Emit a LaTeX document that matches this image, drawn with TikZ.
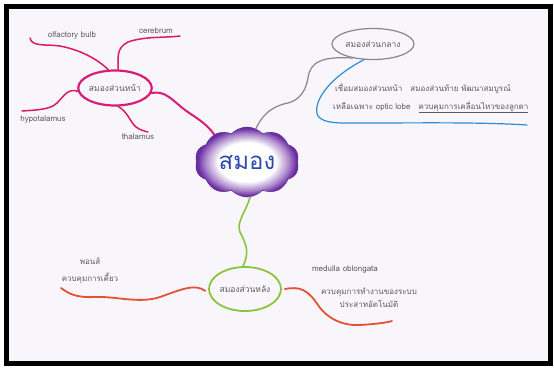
\documentclass[tikz,border=0pt]{standalone}
\usepackage{fontspec}
\usepackage{xcolor}
\usepackage{tikz}
\usetikzlibrary{
  shapes.geometric,
  shapes.symbols,
  positioning
}
\newfontfamily\thaifont[Script=Thai]{Loma}
\definecolor{PaperTint}{RGB}{248, 246, 251}
\definecolor{CloudPurple}{RGB}{108, 45, 165}
\definecolor{BrainBlue}{RGB}{45, 75, 175}
\definecolor{ForeMagenta}{RGB}{214, 30, 120}
\definecolor{MidGray}{RGB}{135, 135, 138}
\definecolor{MidBlue}{RGB}{45, 140, 215}
\definecolor{HindGreen}{RGB}{140, 195, 60}
\definecolor{HindRed}{RGB}{230, 80, 55}
\definecolor{PencilGray}{RGB}{90, 90, 96}
\pgfdeclareradialshading{cloudglow}{\pgfpoint{0bp}{0bp}}{%
  color(0bp)=(white); color(14bp)=(white); color(20bp)=(CloudPurple!55); color(24bp)=(CloudPurple); color(50bp)=(CloudPurple)}
\tikzset{
  partoval/.style={ellipse, inner sep=0pt, font=\thaifont\fontsize{8.5}{10}\selectfont, text=PencilGray},
  pencil/.style={font=\thaifont\fontsize{8}{9.5}\selectfont, text=PencilGray, inner sep=1pt},
  branch/.style={line width=#1, line cap=round}
}

\begin{document}
\begin{tikzpicture}[x=1pt, y=-1pt]
  \useasboundingbox (0,0) rectangle (554,367);
  \fill[white] (0,0) rectangle (554,367);
  \draw[line width=4.5pt, black, fill=PaperTint] (6.5,6.5) rectangle (550.5,363.5);

  % centre
  \node[cloud, cloud puffs=10, cloud puff arc=95, aspect=1.5, minimum width=104pt, minimum height=70pt,
        shading=cloudglow, draw=CloudPurple!80!black, line width=0.5pt,
        font=\thaifont\fontsize{24}{28}\selectfont, text=BrainBlue] (brain) at (247,162) {สมอง};

  % forebrain
  \node[partoval, draw=ForeMagenta, line width=2.2pt, minimum width=70pt, minimum height=35pt] (fore) at (115,88) {สมองส่วนหน้า};
  \node[pencil] (olfLabel) at (72,35) {olfactory bulb};
  \node[pencil] (cerLabel) at (156,31) {cerebrum};
  \node[pencil] (hypLabel) at (43,119) {hypotalamus};
  \node[pencil] (thaLabel) at (138,137) {thalamus};
  \coordinate (olfEnd) at (30,38);
  \coordinate (cerEnd) at (180,36);
  \coordinate (hypEnd) at (22,111);
  \coordinate (thaEnd) at (148,132);

  \draw[branch=2pt, ForeMagenta] (fore.-8) .. controls (165,90) and (172,100) .. (185,110)
        .. controls (196,118) and (205,122) .. (brain.140);
  \draw[branch=1.5pt, ForeMagenta!85!red] (fore.110) .. controls (96,58) and (80,50) .. (60,46)
        .. controls (45,44) and (32,47) .. (olfEnd);
  \draw[branch=1.5pt, ForeMagenta!85!red] (fore.80) .. controls (118,58) and (116,48) .. (128,42)
        .. controls (145,36) and (165,38) .. (cerEnd);
  \draw[branch=1.5pt, ForeMagenta!85!red] (fore.185) .. controls (68,88) and (64,96) .. (57,103)
        .. controls (50,110) and (35,110) .. (hypEnd);
  \draw[branch=1.5pt, ForeMagenta!85!red] (fore.-80) .. controls (128,112) and (130,122) .. (136,127)
        .. controls (140,130) and (144,131) .. (thaEnd);

  % midbrain
  \node[partoval, draw=MidGray, line width=1.2pt, minimum width=82pt, minimum height=31pt] (mid) at (373,44) {สมองส่วนกลาง};
  \node[pencil, anchor=west] (midLineA) at (334,88) {เชื่อมสมองส่วนหน้า\quad สมองส่วนท้าย พัฒนาสมบูรณ์};
  \node[pencil, anchor=west] (midLineB) at (332,107) {เหลือเฉพาะ optic lobe\quad \underline{ควบคุมการเคลื่อนไหวของลูกตา}};
  \coordinate (blueEnd) at (527,125);

  \draw[branch=1.2pt, MidGray] (brain.75) .. controls (262,115) and (272,106) .. (288,103)
        .. controls (300,100) and (306,90) .. (308,78) .. controls (310,62) and (322,56) .. (mid.215);
  \draw[branch=1.2pt, MidBlue] (mid.240) .. controls (325,80) and (312,105) .. (318,116)
        .. controls (324,124) and (340,123) .. (360,123) .. controls (420,123) and (480,122) .. (blueEnd);

  % hindbrain
  \node[partoval, draw=HindGreen, line width=1.8pt, minimum width=72pt, minimum height=44pt] (hind) at (245,289) {สมองส่วนหลัง};
  \node[pencil] (ponsName) at (90,261) {พอนส์};
  \node[pencil, below=6pt of ponsName.south, anchor=north] (ponsNote) {ควบคุมการเคี้ยว};
  \node[pencil] (medName) at (345,269) {medulla oblongata};
  \node[pencil] (medNoteA) at (369,292) {ควบคุมการทำงานของระบบ};
  \node[pencil, below=2pt of medNoteA] (medNoteB) {ประสาทอัตโนมัติ};
  \coordinate (ponsEnd) at (61,288);
  \coordinate (medEnd) at (392,321);

  \draw[branch=1.6pt, HindGreen] (brain.-85) .. controls (246,212) and (236,222) .. (240,232)
        .. controls (246,244) and (250,252) .. (hind.95);
  \draw[branch=1.8pt, HindRed] ([xshift=-3pt]hind.183) .. controls (195,283) and (180,290) .. (160,297)
        .. controls (140,304) and (115,296) .. (95,297) .. controls (75,298) and (68,293) .. (ponsEnd);
  \draw[branch=1.8pt, HindRed] ([xshift=3pt]hind.east) .. controls (300,286) and (308,290) .. (318,305)
        .. controls (328,320) and (345,326) .. (360,325) .. controls (375,324) and (385,323) .. (medEnd);
\end{tikzpicture}
\end{document}
